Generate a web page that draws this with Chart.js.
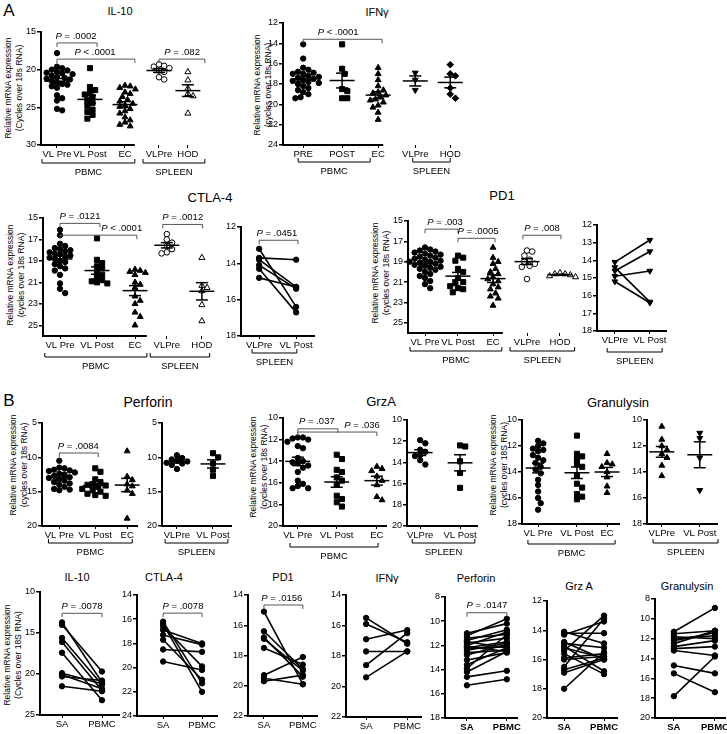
<!DOCTYPE html>
<html>
<head>
<title>mRNA expression panels</title>
<script src="https://cdn.jsdelivr.net/npm/chart.js"></script>
<style>
  body { margin: 0; background: #fff; }
  #fig { position: relative; width: 727px; height: 734px; overflow: hidden; font-family: Arial, "Liberation Sans", sans-serif; color: #000; }
  .t { position: absolute; transform: translate(-50%, -50%); white-space: nowrap; }
  .yt { position: absolute; transform: translate(-50%, -50%) rotate(-90deg); white-space: nowrap; text-align: center; font-size: 8.5px; line-height: 11px; }
  canvas { position: absolute; }
</style>
</head>
<body>
<div id="fig"></div>
<script>
// ---------- data (cycles over 18S RNA, lower = more expression) ----------
// A, IL-10
const il10Cats = ["VL Pre", "VL Post", "EC", "VLPre", "HOD"];
const il10Ticks = [15, 20, 25, 30];
const il10Pre = [17.8, 19.6, 19.8, 20.0, 20.1, 20.3, 20.5, 20.6, 20.8, 21.0, 21.2, 21.3, 21.5, 21.7, 21.9, 22.0, 22.2, 22.4, 21.1, 20.4, 23.4, 23.8, 24.1, 25.2, 25.4];
const il10Post = [19.8, 22.3, 22.7, 23.0, 23.3, 23.6, 24.0, 24.4, 24.8, 25.3, 25.6, 26.0, 26.5];
const il10Ec = [22.1, 22.2, 22.4, 22.6, 23.0, 23.2, 23.6, 24.0, 24.2, 24.5, 24.7, 24.9, 25.2, 25.5, 25.8, 26.3, 26.7, 27.0, 27.3, 27.5];
const il10SplPre = [19.3, 19.5, 19.6, 19.8, 20.1, 20.3, 21.0, 21.3];
const il10Hod = [20.3, 21.4, 22.5, 23.2, 23.5, 25.8];

// A, IFNg
const ifnCats = ["PRE", "POST", "EC", "VLPre", "HOD"];
const ifnTicks = [12, 14, 16, 18, 20, 22, 24];
const ifnPre = [14.1, 15.5, 16.4, 16.6, 16.8, 16.9, 17.0, 17.0, 17.2, 17.3, 17.4, 17.5, 17.6, 17.7, 17.8, 17.9, 18.0, 18.2, 18.4, 18.6, 18.8, 19.0, 19.3, 19.4];
const ifnPost = [14.1, 16.5, 17.0, 18.5, 18.7, 19.4, 19.4];
const ifnEc = [16.4, 17.0, 17.6, 18.2, 18.6, 18.8, 18.9, 19.1, 19.3, 19.5, 19.6, 19.8, 20.1, 20.3, 20.8, 21.5];
const ifnSplPre = [16.9, 17.6, 18.6];
const ifnHod = [16.1, 17.0, 17.2, 18.4, 19.0, 19.4];

// A, CTLA-4
const ctlaCats = ["VL Pre", "VL Post", "EC", "VLPre", "HOD"];
const ctlaTicks = [15, 17, 19, 21, 23, 25];
const ctlaPre = [16.1, 16.6, 17.4, 17.6, 17.8, 17.9, 18.0, 18.1, 18.2, 18.3, 18.4, 18.5, 18.6, 18.7, 18.8, 19.0, 19.1, 19.3, 19.5, 19.7, 19.9, 20.3, 21.1, 21.6, 22.0];
const ctlaPost = [16.9, 18.9, 19.2, 19.5, 19.7, 20.0, 20.3, 20.5, 20.8, 20.9, 21.0, 21.1];
const ctlaEc = [19.8, 19.9, 20.0, 20.1, 20.3, 21.0, 21.2, 21.5, 22.3, 22.7, 23.0, 23.8, 24.2, 25.0];
const ctlaSplPre = [16.5, 17.0, 17.3, 17.6, 17.9, 18.2, 18.3];
const ctlaHod = [18.7, 21.3, 21.5, 21.8, 23.1, 24.6];
const spleenCats = ["VLPre", "VL Post"];
const ctlaSpTicks = [12, 14, 16, 18];
const ctlaSpPre = [13.2, 13.7, 13.8, 14.1, 14.3, 14.8];
const ctlaSpPost = [16.4, 13.8, 15.3, 15.4, 16.7, 15.3];

// A, PD1
const pd1Cats = ["VL Pre", "VL Post", "EC", "VLPre", "HOD"];
const pd1Ticks = [15, 17, 19, 21, 23, 25];
const pd1Pre = [17.6, 17.8, 17.9, 18.0, 18.1, 18.2, 18.3, 18.4, 18.5, 18.6, 18.7, 18.8, 18.9, 19.0, 19.0, 19.1, 19.2, 19.3, 19.4, 19.5, 19.6, 19.7, 19.8, 20.0, 20.2, 20.4, 20.6, 20.9, 21.2, 21.6];
const pd1Post = [18.4, 18.6, 18.9, 19.7, 20.0, 20.6, 21.0, 21.1, 21.4, 21.6, 21.7, 22.0];
const pd1Ec = [17.6, 18.6, 19.0, 19.2, 19.7, 20.0, 20.2, 20.5, 20.7, 20.9, 21.2, 21.5, 21.7, 22.1, 22.4, 22.6, 23.3];
const pd1SplPre = [17.9, 18.0, 18.4, 18.8, 19.0, 19.2, 19.4, 19.5, 20.7];
const pd1Hod = [20.1, 20.2, 20.2, 20.3, 20.4, 20.5];
const pd1SpTicks = [12, 13, 14, 15, 16, 17, 18];
const pd1SpPre = [14.1, 14.6, 14.9, 14.4, 15.2];
const pd1SpPost = [12.85, 13.5, 14.6, 16.35, 16.4];

// B, Perforin / GrzA / Granulysin
const pbmcCats = ["VL Pre", "VL Post", "EC"];
const perfTicks = [5, 10, 15, 20];
const perfPre = [10.5, 11.5, 11.6, 11.8, 11.9, 12.0, 12.2, 12.4, 12.5, 12.7, 12.9, 13.0, 13.2, 13.4, 13.6, 13.8, 14.0, 14.3, 14.6, 14.7, 14.8];
const perfPost = [11.6, 12.1, 13.2, 13.6, 13.9, 14.0, 14.1, 14.3, 14.6, 14.8, 15.0, 15.3, 15.5, 15.6];
const perfEc = [9.1, 12.8, 13.3, 13.9, 14.2, 14.8, 15.3, 18.9];
const perfSplPre = [9.7, 10.1, 10.3, 10.5, 10.6, 10.8, 10.9, 11.1, 11.7];
const perfSplPost = [9.4, 10.0, 10.9, 11.8, 12.7];

const grzTicks = [10, 12, 14, 16, 18, 20];
const grzPre = [11.8, 11.8, 11.9, 12.0, 12.2, 12.6, 12.8, 13.7, 14.0, 14.1, 14.2, 14.4, 14.6, 15.0, 15.8, 16.1, 16.3, 16.5, 16.5];
const grzPost = [13.4, 13.8, 14.8, 15.0, 15.5, 15.8, 16.2, 17.2, 17.5, 17.8, 18.2];
const grzEc = [14.5, 14.7, 14.9, 15.4, 15.8, 16.2, 17.3, 17.6];
const grzSplPre = [11.9, 12.2, 12.8, 13.0, 13.3, 13.4, 13.8, 14.2];
const grzSplPost = [12.4, 12.5, 13.9, 15.0, 16.4];

const granTicks = [10, 12, 14, 16, 18];
const granPre = [11.6, 11.8, 12.0, 12.2, 12.3, 12.4, 12.7, 12.9, 13.1, 13.3, 13.6, 13.8, 14.1, 14.6, 15.0, 15.5, 16.0, 16.4, 16.9];
const granPost = [11.2, 12.6, 12.8, 13.0, 13.4, 13.6, 14.3, 14.9, 15.2, 15.7, 15.9, 16.1];
const granEc = [12.6, 13.3, 13.4, 13.6, 14.0, 14.4, 15.1, 15.6];
const granSplPre = [10.5, 11.5, 12.0, 12.3, 12.6, 12.9, 13.5, 14.3];
const granSplPost = [11.0, 11.4, 12.9, 15.4];

// bottom row, paired SA vs PBMC
const pairCats = ["SA", "PBMC"];
const saIl10 = [13.7, 14.0, 15.6, 16.1, 17.4, 19.9, 20.1, 20.3, 21.5];
const pbIl10 = [21.0, 19.7, 21.3, 22.0, 23.2, 21.2, 21.8, 20.8, 22.1];
const saCtla = [16.2, 16.4, 16.6, 16.9, 17.3, 17.7, 18.5, 19.5];
const pbCtla = [21.3, 22.0, 19.9, 18.0, 18.1, 21.0, 18.7, 20.2];
const saPd1 = [15.1, 16.4, 16.8, 16.9, 17.5, 19.3, 19.5, 19.7];
const pbPd1 = [19.9, 18.9, 19.4, 19.0, 18.6, 18.1, 19.9, 19.3];
const saIfn = [15.5, 15.9, 16.9, 17.7, 18.6, 19.4];
const pbIfn = [17.2, 17.1, 16.3, 17.7, 16.5, 17.7];
const saPerf = [11.0, 11.2, 11.4, 11.6, 11.7, 11.8, 12.0, 12.1, 12.2, 12.3, 12.4, 12.6, 12.8, 13.2, 13.6, 13.9, 14.2, 14.6, 15.3];
const pbPerf = [10.2, 9.8, 11.1, 10.7, 12.2, 11.4, 10.9, 12.5, 11.7, 12.1, 11.8, 12.4, 11.9, 12.6, 12.2, 11.1, 12.5, 14.1, 14.8];
const saGrz = [14.1, 14.2, 14.3, 14.8, 14.9, 15.1, 15.2, 15.4, 15.6, 15.9, 16.0, 16.5, 16.7, 16.9, 18.0];
const pbGrz = [14.9, 14.2, 13.4, 16.0, 15.2, 16.8, 15.9, 13.0, 17.0, 15.6, 15.8, 13.2, 15.9, 16.0, 15.5];
const saGran = [11.3, 11.5, 11.8, 12.0, 12.2, 12.5, 12.8, 13.0, 13.2, 14.7, 15.5, 17.8];
const pbGran = [8.9, 11.2, 12.0, 11.7, 11.4, 11.2, 12.2, 12.8, 13.7, 15.5, 17.4, 13.8];

// ---------- layout ----------
const panels = [
  { ax: 41, top: 32, bot: 145, unit: 34, xMax: 5.0, axisEnd: 2.76, yMin: 15, yMax: 30, ticks: il10Ticks, cats: il10Cats,
    xs: [0.47, 1.44, 2.47, 3.47, 4.32],
    dots: [[il10Pre, "circle"], [il10Post, "rect"], [il10Ec, "tri"], [il10SplPre, "ocircle"], [il10Hod, "otri"]],
    pv: [[0.47, 1.65, 16.45, "= .0002", 1.03], [0.47, 2.76, 18.6, "< .0001", 1.59], [3.47, 4.82, 18.6, "= .082", 4.15]],
    groups: [[0.03, 2.76, "PBMC"], [3.0, 4.82, "SPLEEN"]], gb: 18 },
  { ax: 283, top: 22.7, bot: 145, unit: 36, xMax: 5.05, axisEnd: 2.78, yMin: 12, yMax: 24, ticks: ifnTicks, cats: ifnCats,
    xs: [0.56, 1.64, 2.64, 3.67, 4.64],
    dots: [[ifnPre, "circle"], [ifnPost, "rect"], [ifnEc, "tri"], [ifnSplPre, "dtri"], [ifnHod, "diamond"]],
    pv: [[0.56, 2.75, 13.6, "< .0001", 1.53]],
    groups: [[0.42, 2.42, "PBMC"], [3.6, 4.64, "SPLEEN"]], gb: 17 },
  { ax: 43, top: 217.7, bot: 335.7, unit: 37, xMax: 4.6, axisEnd: 2.81, yMin: 15, yMax: 26, ticks: ctlaTicks, cats: ctlaCats,
    xs: [0.46, 1.46, 2.49, 3.35, 4.3],
    dots: [[ctlaPre, "circle"], [ctlaPost, "rect"], [ctlaEc, "tri"], [ctlaSplPre, "ocircle"], [ctlaHod, "otri"]],
    pv: [[0.46, 1.54, 15.5, "= .0121", 1.0], [0.46, 2.54, 16.6, "< .0001", 2.13], [3.24, 4.32, 15.6, "= .0012", 3.78]],
    groups: [[0.05, 2.81, "PBMC"], [2.9, 4.51, "SPLEEN"]], gb: 21 },
  { ax: 241, top: 226.7, bot: 335.7, unit: 37, xMax: 2.0, yMin: 12, yMax: 18, ticks: ctlaSpTicks, cats: spleenCats,
    xs: [0.49, 1.49], pairs: [ctlaSpPre, ctlaSpPost, "circle"],
    pv: [[0.49, 1.54, 12.73, "= .0451", 0.97]],
    groups: [[0.3, 1.51, "SPLEEN"]], gb: 17 },
  { ax: 408, top: 220.7, bot: 332.3, unit: 34, xMax: 5.0, axisEnd: 2.79, yMin: 15, yMax: 26, ticks: pd1Ticks, cats: pd1Cats,
    xs: [0.5, 1.47, 2.5, 3.5, 4.47],
    dots: [[pd1Pre, "circle"], [pd1Post, "rect"], [pd1Ec, "tri"], [pd1SplPre, "ocircle"], [pd1Hod, "otri"]],
    pv: [[0.5, 1.47, 15.8, "= .003", 1.09], [1.47, 2.56, 16.7, "= .0005", 2.06], [3.38, 4.5, 16.4, "= .008", 3.94]],
    groups: [[0.06, 2.76, "PBMC"], [3.0, 4.9, "SPLEEN"]], gb: 18 },
  { ax: 597, top: 225, bot: 330.7, unit: 35, xMax: 2.0, yMin: 12, yMax: 18, ticks: pd1SpTicks, cats: spleenCats,
    xs: [0.51, 1.51], pairs: [pd1SpPre, pd1SpPost, "dtri"],
    groups: [[0.29, 1.86, "SPLEEN"]], gb: 21 },
  { ax: 42, top: 423, bot: 526, unit: 34, xMax: 2.83, yMin: 5, yMax: 20, ticks: perfTicks, cats: pbmcCats,
    xs: [0.51, 1.57, 2.51],
    dots: [[perfPre, "circle"], [perfPost, "rect"], [perfEc, "tri"]],
    pv: [[0.51, 1.66, 9.37, "= .0084", 1.07]],
    groups: [[0.19, 2.66, "PBMC"]], gb: 17 },
  { ax: 162, top: 423, bot: 526, unit: 34, xMax: 2.06, yMin: 5, yMax: 20, ticks: perfTicks, cats: spleenCats,
    xs: [0.44, 1.5],
    dots: [[perfSplPre, "circle"], [perfSplPost, "rect"]],
    groups: [[0.09, 1.94, "SPLEEN"]], gb: 17 },
  { ax: 283, top: 418, bot: 526, unit: 39, xMax: 2.67, yMin: 10, yMax: 20, ticks: grzTicks, cats: pbmcCats,
    xs: [0.38, 1.38, 2.41],
    dots: [[grzPre, "circle"], [grzPost, "rect"], [grzEc, "tri"]],
    pv: [[0.38, 1.41, 11.0, "= .037", 0.87], [0.38, 2.41, 11.3, "= .036", 2.03]],
    groups: [[0.18, 2.44, "PBMC"]], gb: 21 },
  { ax: 407, top: 420, bot: 526, unit: 40, xMax: 1.78, yMin: 10, yMax: 20, ticks: grzTicks, cats: spleenCats,
    xs: [0.33, 1.33],
    dots: [[grzSplPre, "circle"], [grzSplPost, "rect"]],
    groups: [[0.13, 1.7, "SPLEEN"]], gb: 17 },
  { ax: 522, top: 420, bot: 524, unit: 35, xMax: 2.8, yMin: 10, yMax: 18, ticks: granTicks, cats: pbmcCats,
    xs: [0.46, 1.57, 2.43],
    dots: [[granPre, "circle"], [granPost, "rect"], [granEc, "tri"]],
    groups: [[0.17, 2.66, "PBMC"]], gb: 20 },
  { ax: 647, top: 420, bot: 524, unit: 38, xMax: 1.87, yMin: 10, yMax: 18, ticks: granTicks, cats: spleenCats,
    xs: [0.39, 1.39],
    dots: [[granSplPre, "tri"], [granSplPost, "dtri"]],
    groups: [[0.16, 1.87, "SPLEEN"]], gb: 19 },
  { ax: 40, top: 591.7, bot: 715, unit: 40, xMax: 2.0, yMin: 10, yMax: 25, ticks: [10, 15, 20, 25], cats: pairCats,
    xs: [0.55, 1.55], pairs: [saIl10, pbIl10, "circle"], pv: [[0.55, 1.55, 12.6, "= .0078", 1.05]] },
  { ax: 137, top: 595, bot: 715.7, unit: 39, xMax: 2.08, yMin: 14, yMax: 24, ticks: [14, 16, 18, 20, 22, 24], cats: pairCats,
    xs: [0.67, 1.67], pairs: [saCtla, pbCtla, "circle"], pv: [[0.67, 1.67, 15.5, "= .0078", 1.18]] },
  { ax: 248, top: 595, bot: 715.7, unit: 39, xMax: 1.8, yMin: 14, yMax: 22, ticks: [14, 16, 18, 20, 22], cats: pairCats,
    xs: [0.41, 1.41], pairs: [saPd1, pbPd1, "circle"], pv: [[0.41, 1.41, 14.66, "= .0156", 0.87]] },
  { ax: 346, top: 595, bot: 716.7, unit: 41, xMax: 1.85, yMin: 14, yMax: 22, ticks: [14, 16, 18, 20, 22], cats: pairCats,
    xs: [0.49, 1.49], pairs: [saIfn, pbIfn, "circle"] },
  { ax: 445, top: 597, bot: 718, unit: 40, xMax: 1.83, yMin: 8, yMax: 18, ticks: [8, 10, 12, 14, 16, 18], cats: pairCats, bold: true,
    xs: [0.55, 1.55], pairs: [saPerf, pbPerf, "circle"], pv: [[0.55, 1.55, 9.3, "= .0147", 1.05]] },
  { ax: 547, top: 600.7, bot: 718, unit: 40, xMax: 1.78, yMin: 12, yMax: 20, ticks: [12, 14, 16, 18, 20], cats: pairCats, bold: true,
    xs: [0.43, 1.43], pairs: [saGrz, pbGrz, "circle"] },
  { ax: 655, top: 599, bot: 718, unit: 41, xMax: 1.73, yMin: 8, yMax: 20, ticks: [8, 10, 12, 14, 16, 18, 20], cats: pairCats, bold: true,
    xs: [0.46, 1.46], pairs: [saGran, pbGran, "circle"] },
];

const titles = [
  ["A", 9, 11, 17], ["IL-10", 120, 11, 11], ["IFN\u03b3", 377, 12, 11],
  ["CTLA-4", 210, 197, 13], ["PD1", 502, 195, 13],
  ["B", 9, 401, 17], ["Perforin", 148, 402, 14], ["GrzA", 381, 401, 13], ["Granulysin", 618, 402, 13],
  ["IL-10", 77, 577, 11], ["CTLA-4", 164, 577, 11], ["PD1", 283, 577, 11], ["IFN\u03b3", 387, 578, 11],
  ["Perforin", 476, 578, 11], ["Grz A", 579, 586, 11], ["Granulysin", 687, 586, 11],
];
const yTitles = [
  [14, 88, "(Cycles over 18s RNA)"], [263, 85, "(cycles over 18s RNA)"],
  [16, 275, "(cycles over 18s RNA)"], [381, 273, "(cycles over 18s RNA)"],
  [19, 465, "(cycles over 18s RNA)"], [259, 467, "(cycles over 18s RNA)"],
  [499, 465, "(cycles over 18S RNA)"], [13, 655, "(Cycles over 18S RNA)"],
];

// ---------- drawing ----------
Chart.defaults.font.family = 'Arial, "Liberation Sans", sans-serif';
Chart.defaults.color = "#000";
const fig = document.getElementById("fig");

titles.forEach(([txt, x, y, size]) => {
  const d = document.createElement("div");
  d.className = "t";
  d.style.cssText = `left:${x}px;top:${y}px;font-size:${size}px`;
  d.textContent = txt;
  fig.appendChild(d);
});
yTitles.forEach(([x, y, second]) => {
  const d = document.createElement("div");
  d.className = "yt";
  d.style.left = x + "px";
  d.style.top = y + "px";
  d.innerHTML = "Relative mRNA expression<br>" + second;
  fig.appendChild(d);
});

const markers = {
  circle: { style: "circle", bg: "#000", r: 2.7 },
  rect: { style: "rect", bg: "#000", r: 3.6 },
  tri: { style: "triangle", bg: "#000", r: 3.4 },
  dtri: { style: "triangle", bg: "#000", r: 3.4, rot: 180 },
  diamond: { style: "rectRot", bg: "#000", r: 3.3 },
  ocircle: { style: "circle", bg: "#fff", r: 2.8 },
  otri: { style: "triangle", bg: "#fff", r: 3.5 },
};

const mean = (a) => a.reduce((s, v) => s + v, 0) / a.length;
const sem = (a) => {
  const m = mean(a);
  return Math.sqrt(a.reduce((s, v) => s + (v - m) ** 2, 0) / (a.length - 1) / a.length);
};

// spread dots sideways so they don't overlap (column scatter)
function swarm(vals, cx, unit, pyu, d) {
  const idx = vals.map((v, i) => i).sort((a, b) => vals[a] - vals[b]);
  const placed = [];
  const out = [];
  idx.forEach((i) => {
    const yp = vals[i] * pyu;
    let off = 0;
    for (let n = 0; n < 60; n++) {
      off = n === 0 ? 0 : (n % 2 ? 1 : -1) * Math.ceil(n / 2) * d * 0.5;
      if (placed.every((q) => Math.hypot(q[0] - off, q[1] - yp) >= d)) break;
    }
    placed.push([off, yp]);
    out.push({ x: cx + off / unit, y: vals[i] });
  });
  return out;
}

const seg = (pts) => ({ data: pts, showLine: true, borderColor: "#000", borderWidth: 1.5, pointRadius: 0, clip: false, order: 0 });

function pointDs(data, m, extra) {
  return Object.assign({
    data, pointStyle: m.style, pointRadius: m.r, pointRotation: m.rot || 0,
    pointBackgroundColor: m.bg, pointBorderColor: "#000", pointBorderWidth: 1,
    clip: false, order: 1,
  }, extra || {});
}

function drawP(ctx, txt, x, y) {
  ctx.font = "italic 9.5px Arial, 'Liberation Sans'";
  const w1 = ctx.measureText("P ").width;
  ctx.font = "9.5px Arial, 'Liberation Sans'";
  const w2 = ctx.measureText(txt).width;
  const x0 = x - (w1 + w2) / 2;
  ctx.textAlign = "left";
  ctx.textBaseline = "middle";
  ctx.fillStyle = "#000";
  ctx.font = "italic 9.5px Arial, 'Liberation Sans'";
  ctx.fillText("P ", x0, y);
  ctx.font = "9.5px Arial, 'Liberation Sans'";
  ctx.fillText(txt, x0 + w1, y);
}

function drawAnnot(chart, p) {
  const ctx = chart.ctx, xs = chart.scales.x, ys = chart.scales.y;
  const b = chart.chartArea.bottom;
  ctx.save();
  // x axis only under its own block
  ctx.strokeStyle = "#000";
  ctx.lineWidth = 2;
  ctx.beginPath();
  ctx.moveTo(xs.getPixelForValue(0) - 1, b);
  ctx.lineTo(xs.getPixelForValue(p.axisEnd || p.xMax), b);
  ctx.stroke();
  (p.pv || []).forEach(([x1, x2, y, txt, tx]) => {
    const X1 = xs.getPixelForValue(x1), X2 = xs.getPixelForValue(x2), Y = ys.getPixelForValue(y);
    ctx.strokeStyle = "#555";
    ctx.lineWidth = 1;
    ctx.beginPath();
    ctx.moveTo(X1, Y + 4); ctx.lineTo(X1, Y); ctx.lineTo(X2, Y); ctx.lineTo(X2, Y + 4);
    ctx.stroke();
    drawP(ctx, txt, xs.getPixelForValue(tx), Y - 7);
  });
  (p.groups || []).forEach(([x1, x2, label]) => {
    const X1 = xs.getPixelForValue(x1), X2 = xs.getPixelForValue(x2), Y = b + p.gb;
    ctx.strokeStyle = "#000";
    ctx.lineWidth = 1;
    ctx.beginPath();
    ctx.moveTo(X1, Y - 4); ctx.lineTo(X1, Y); ctx.lineTo(X2, Y); ctx.lineTo(X2, Y - 4);
    ctx.stroke();
    ctx.font = "9.5px Arial, 'Liberation Sans'";
    ctx.textAlign = "center";
    ctx.textBaseline = "middle";
    ctx.fillStyle = "#000";
    ctx.fillText(label, (X1 + X2) / 2, Y + 9);
  });
  ctx.restore();
}

function build(p) {
  const YW = 26, PT = 16, PB = 44, PR = 24;
  const w = Math.round(YW + p.unit * p.xMax + PR);
  const h = Math.round(p.bot - p.top + PT + PB);
  const cv = document.createElement("canvas");
  cv.width = w;
  cv.height = h;
  cv.style.cssText = `left:${Math.round(p.ax - YW)}px;top:${Math.round(p.top - PT)}px;width:${w}px;height:${h}px`;
  fig.appendChild(cv);

  const pyu = (p.bot - p.top) / (p.yMax - p.yMin);
  const datasets = [];
  (p.dots || []).forEach(([vals, mk], k) => {
    const x = p.xs[k];
    datasets.push(pointDs(swarm(vals, x, p.unit, pyu, 5.2), markers[mk]));
    const m = mean(vals), s = sem(vals);
    const mw = 12.5 / p.unit, cw = 6 / p.unit;
    datasets.push(seg([{ x: x - mw, y: m }, { x: x + mw, y: m }]));
    datasets.push(seg([{ x: x - cw, y: m - s }, { x: x + cw, y: m - s }]));
    datasets.push(seg([{ x: x - cw, y: m + s }, { x: x + cw, y: m + s }]));
    datasets.push(seg([{ x: x, y: m - s }, { x: x, y: m + s }]));
  });
  if (p.pairs) {
    const [a, bArr, mk] = p.pairs;
    const m = Object.assign({}, markers[mk], { r: mk === "circle" ? 2.7 : 3.3 });
    a.forEach((v, i) => {
      datasets.push(pointDs([{ x: p.xs[0], y: v }, { x: p.xs[1], y: bArr[i] }], m,
        { showLine: true, borderColor: "#000", borderWidth: 1.6 }));
    });
  }

  new Chart(cv, {
    type: "scatter",
    data: { datasets },
    options: {
      responsive: false,
      animation: false,
      events: [],
      layout: { padding: { left: 0, top: PT, right: PR, bottom: 0 } },
      plugins: { legend: { display: false }, tooltip: { enabled: false } },
      scales: {
        x: {
          type: "linear", min: 0, max: p.xMax,
          afterBuildTicks: (s) => { s.ticks = p.xs.map((v) => ({ value: v })); },
          afterFit: (s) => { s.height = PB; },
          border: { display: false },
          grid: { display: true, drawOnChartArea: false, drawTicks: true, tickLength: 3, color: "#000", lineWidth: 1 },
          ticks: {
            autoSkip: false, maxRotation: 0, minRotation: 0, padding: 1,
            font: { size: 9.5, weight: p.bold ? "bold" : "normal" },
            callback: (v, i) => p.cats[i],
          },
        },
        y: {
          type: "linear", reverse: true, min: p.yMin, max: p.yMax,
          afterBuildTicks: (s) => { s.ticks = p.ticks.map((v) => ({ value: v })); },
          afterFit: (s) => { s.width = YW; },
          border: { display: true, color: "#000", width: 2 },
          grid: { display: true, drawOnChartArea: false, drawTicks: true, tickLength: 4, color: "#000", lineWidth: 1.5 },
          ticks: { font: { size: 9 }, padding: 1 },
        },
      },
    },
    plugins: [{ id: "annot", afterDraw: (chart) => drawAnnot(chart, p) }],
  });
}

panels.forEach(build);
</script>
</body>
</html>
